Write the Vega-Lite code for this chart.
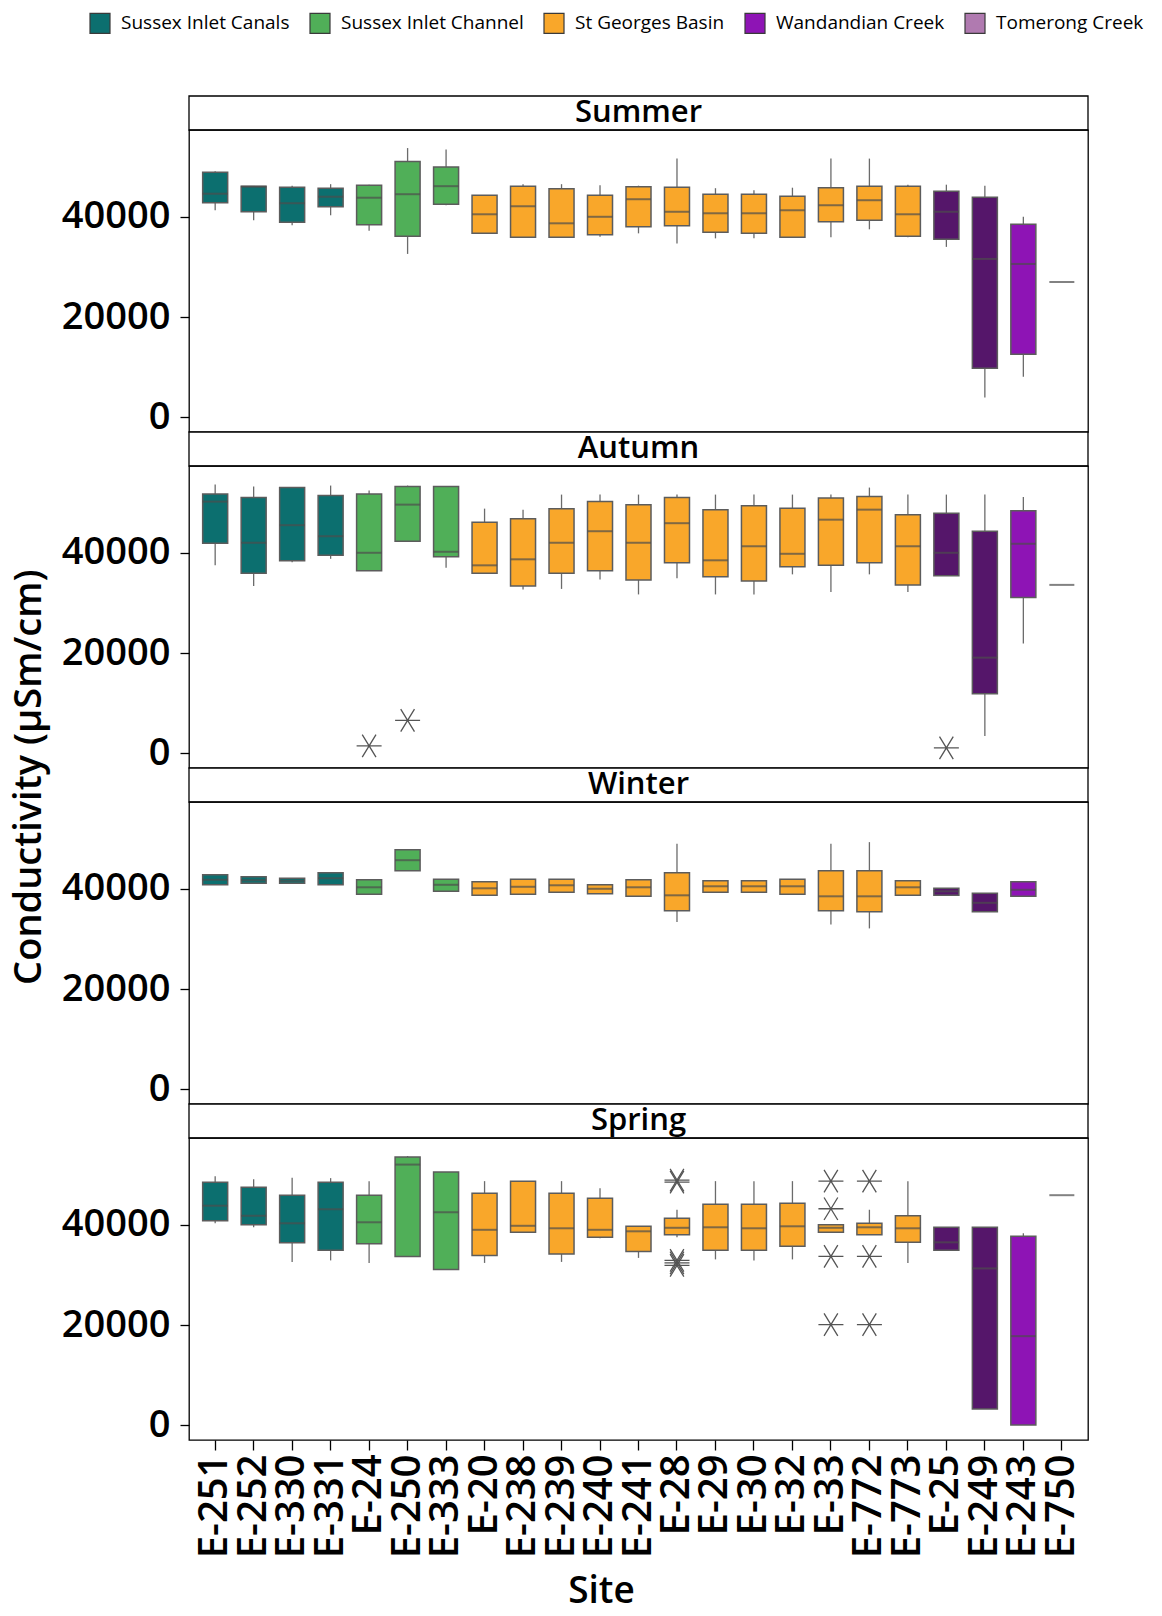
{
  "$schema": "https://vega.github.io/schema/vega-lite/v6.json",
  "padding": {"left": 10, "top": 12, "right": 5, "bottom": 2},
  "bounds": "flush",
  "title": {"text": "Conductivity (μSm/cm)", "orient": "left", "anchor": "middle", "fontSize": 38, "fontWeight": 600, "font": "Open Sans", "color": "#000", "offset": 12, "dx": 34},
  "datasets": {
    "stats": [
      {"season":"Summer","Site":"E-251","Group":"Sussex Inlet Canals","lo":41300,"q1":42800,"median":44600,"q3":48900,"hi":49100},
      {"season":"Summer","Site":"E-252","Group":"Sussex Inlet Canals","lo":39300,"q1":41000,"median":46000,"q3":46100,"hi":46100},
      {"season":"Summer","Site":"E-330","Group":"Sussex Inlet Canals","lo":38300,"q1":38900,"median":42700,"q3":45900,"hi":46200},
      {"season":"Summer","Site":"E-331","Group":"Sussex Inlet Canals","lo":40300,"q1":42000,"median":44000,"q3":45700,"hi":46500},
      {"season":"Summer","Site":"E-24","Group":"Sussex Inlet Channel","lo":37200,"q1":38400,"median":43800,"q3":46300,"hi":46400},
      {"season":"Summer","Site":"E-250","Group":"Sussex Inlet Channel","lo":32600,"q1":36100,"median":44500,"q3":51000,"hi":53700},
      {"season":"Summer","Site":"E-333","Group":"Sussex Inlet Channel","lo":42300,"q1":42500,"median":46100,"q3":49900,"hi":53400},
      {"season":"Summer","Site":"E-20","Group":"St Georges Basin","lo":36700,"q1":36700,"median":40500,"q3":44300,"hi":44300},
      {"season":"Summer","Site":"E-238","Group":"St Georges Basin","lo":35900,"q1":35900,"median":42100,"q3":46100,"hi":46500},
      {"season":"Summer","Site":"E-239","Group":"St Georges Basin","lo":35900,"q1":35900,"median":38700,"q3":45600,"hi":46500},
      {"season":"Summer","Site":"E-240","Group":"St Georges Basin","lo":36000,"q1":36400,"median":40000,"q3":44300,"hi":46300},
      {"season":"Summer","Site":"E-241","Group":"St Georges Basin","lo":36700,"q1":38000,"median":43500,"q3":46000,"hi":46200},
      {"season":"Summer","Site":"E-28","Group":"St Georges Basin","lo":34700,"q1":38200,"median":41000,"q3":45900,"hi":51600},
      {"season":"Summer","Site":"E-29","Group":"St Georges Basin","lo":35700,"q1":36900,"median":40700,"q3":44500,"hi":45700},
      {"season":"Summer","Site":"E-30","Group":"St Georges Basin","lo":35700,"q1":36700,"median":40700,"q3":44500,"hi":45300},
      {"season":"Summer","Site":"E-32","Group":"St Georges Basin","lo":35900,"q1":35900,"median":41300,"q3":44100,"hi":45800},
      {"season":"Summer","Site":"E-33","Group":"St Georges Basin","lo":35900,"q1":39000,"median":42300,"q3":45800,"hi":51600},
      {"season":"Summer","Site":"E-772","Group":"St Georges Basin","lo":37500,"q1":39300,"median":43300,"q3":46100,"hi":51600},
      {"season":"Summer","Site":"E-773","Group":"St Georges Basin","lo":35900,"q1":36100,"median":40500,"q3":46100,"hi":46400},
      {"season":"Summer","Site":"E-25","Group":"Wandandian Creek","lo":34000,"q1":35500,"median":41000,"q3":45100,"hi":46400},
      {"season":"Summer","Site":"E-249","Group":"Wandandian Creek","lo":4000,"q1":9800,"median":31600,"q3":43900,"hi":46200},
      {"season":"Summer","Site":"E-243","Group":"Wandandian Creek","lo":8100,"q1":12600,"median":30600,"q3":38500,"hi":40000},
      {"season":"Summer","Site":"E-750","Group":"Tomerong Creek","median":27000},

      {"season":"Autumn","Site":"E-251","Group":"Sussex Inlet Canals","lo":37500,"q1":41900,"median":50200,"q3":51700,"hi":53600},
      {"season":"Autumn","Site":"E-252","Group":"Sussex Inlet Canals","lo":33400,"q1":35900,"median":42000,"q3":51000,"hi":53200},
      {"season":"Autumn","Site":"E-330","Group":"Sussex Inlet Canals","lo":38100,"q1":38400,"median":45500,"q3":53000,"hi":53000},
      {"season":"Autumn","Site":"E-331","Group":"Sussex Inlet Canals","lo":38800,"q1":39500,"median":43300,"q3":51400,"hi":53400},
      {"season":"Autumn","Site":"E-24","Group":"Sussex Inlet Channel","lo":36400,"q1":36400,"median":40000,"q3":51700,"hi":52400},
      {"season":"Autumn","Site":"E-250","Group":"Sussex Inlet Channel","lo":42300,"q1":42300,"median":49600,"q3":53200,"hi":53400},
      {"season":"Autumn","Site":"E-333","Group":"Sussex Inlet Channel","lo":37000,"q1":39200,"median":40200,"q3":53200,"hi":53200},
      {"season":"Autumn","Site":"E-20","Group":"St Georges Basin","lo":35900,"q1":35900,"median":37500,"q3":46100,"hi":48800},
      {"season":"Autumn","Site":"E-238","Group":"St Georges Basin","lo":32700,"q1":33400,"median":38700,"q3":46800,"hi":48600},
      {"season":"Autumn","Site":"E-239","Group":"St Georges Basin","lo":32800,"q1":35900,"median":42000,"q3":48800,"hi":51600},
      {"season":"Autumn","Site":"E-240","Group":"St Georges Basin","lo":34700,"q1":36400,"median":44300,"q3":50200,"hi":51600},
      {"season":"Autumn","Site":"E-241","Group":"St Georges Basin","lo":31700,"q1":34600,"median":42000,"q3":49600,"hi":51600},
      {"season":"Autumn","Site":"E-28","Group":"St Georges Basin","lo":34900,"q1":38000,"median":45900,"q3":51000,"hi":51600},
      {"season":"Autumn","Site":"E-29","Group":"St Georges Basin","lo":31700,"q1":35200,"median":38500,"q3":48600,"hi":51600},
      {"season":"Autumn","Site":"E-30","Group":"St Georges Basin","lo":31700,"q1":34400,"median":41300,"q3":49400,"hi":51600},
      {"season":"Autumn","Site":"E-32","Group":"St Georges Basin","lo":35700,"q1":37200,"median":39800,"q3":48900,"hi":51600},
      {"season":"Autumn","Site":"E-33","Group":"St Georges Basin","lo":32200,"q1":37500,"median":46600,"q3":50900,"hi":51600},
      {"season":"Autumn","Site":"E-772","Group":"St Georges Basin","lo":35700,"q1":38000,"median":48600,"q3":51200,"hi":53000},
      {"season":"Autumn","Site":"E-773","Group":"St Georges Basin","lo":32200,"q1":33600,"median":41300,"q3":47600,"hi":51600},
      {"season":"Autumn","Site":"E-25","Group":"Wandandian Creek","lo":35400,"q1":35400,"median":40000,"q3":47900,"hi":51600},
      {"season":"Autumn","Site":"E-249","Group":"Wandandian Creek","lo":3500,"q1":11900,"median":19100,"q3":44300,"hi":51600},
      {"season":"Autumn","Site":"E-243","Group":"Wandandian Creek","lo":21900,"q1":31100,"median":41800,"q3":48400,"hi":51100},
      {"season":"Autumn","Site":"E-750","Group":"Tomerong Creek","median":33600},

      {"season":"Winter","Site":"E-251","Group":"Sussex Inlet Canals","lo":40800,"q1":40800,"median":41800,"q3":42800,"hi":42800},
      {"season":"Winter","Site":"E-252","Group":"Sussex Inlet Canals","lo":41100,"q1":41100,"median":41700,"q3":42400,"hi":42400},
      {"season":"Winter","Site":"E-330","Group":"Sussex Inlet Canals","lo":41100,"q1":41100,"median":41600,"q3":42100,"hi":42100},
      {"season":"Winter","Site":"E-331","Group":"Sussex Inlet Canals","lo":40800,"q1":40800,"median":42100,"q3":43200,"hi":43200},
      {"season":"Winter","Site":"E-24","Group":"Sussex Inlet Channel","lo":38900,"q1":38900,"median":40300,"q3":41800,"hi":41800},
      {"season":"Winter","Site":"E-250","Group":"Sussex Inlet Channel","lo":43600,"q1":43600,"median":45700,"q3":47800,"hi":47800},
      {"season":"Winter","Site":"E-333","Group":"Sussex Inlet Channel","lo":39500,"q1":39500,"median":40800,"q3":41900,"hi":41900},
      {"season":"Winter","Site":"E-20","Group":"St Georges Basin","lo":38700,"q1":38700,"median":40100,"q3":41400,"hi":41400},
      {"season":"Winter","Site":"E-238","Group":"St Georges Basin","lo":38900,"q1":38900,"median":40400,"q3":41900,"hi":41900},
      {"season":"Winter","Site":"E-239","Group":"St Georges Basin","lo":39300,"q1":39300,"median":40700,"q3":41900,"hi":41900},
      {"season":"Winter","Site":"E-240","Group":"St Georges Basin","lo":39000,"q1":39000,"median":40000,"q3":40800,"hi":40800},
      {"season":"Winter","Site":"E-241","Group":"St Georges Basin","lo":38500,"q1":38500,"median":40300,"q3":41800,"hi":41800},
      {"season":"Winter","Site":"E-28","Group":"St Georges Basin","lo":33400,"q1":35600,"median":38700,"q3":43200,"hi":49000},
      {"season":"Winter","Site":"E-29","Group":"St Georges Basin","lo":39300,"q1":39300,"median":40500,"q3":41600,"hi":41600},
      {"season":"Winter","Site":"E-30","Group":"St Georges Basin","lo":39300,"q1":39300,"median":40500,"q3":41600,"hi":41600},
      {"season":"Winter","Site":"E-32","Group":"St Georges Basin","lo":38900,"q1":38900,"median":40500,"q3":41900,"hi":41900},
      {"season":"Winter","Site":"E-33","Group":"St Georges Basin","lo":32900,"q1":35600,"median":38500,"q3":43600,"hi":49000},
      {"season":"Winter","Site":"E-772","Group":"St Georges Basin","lo":32100,"q1":35400,"median":38500,"q3":43600,"hi":49300},
      {"season":"Winter","Site":"E-773","Group":"St Georges Basin","lo":38700,"q1":38700,"median":40300,"q3":41600,"hi":41600},
      {"season":"Winter","Site":"E-25","Group":"Wandandian Creek","lo":38700,"q1":38700,"median":39500,"q3":40100,"hi":40100},
      {"season":"Winter","Site":"E-249","Group":"Wandandian Creek","lo":35400,"q1":35400,"median":37200,"q3":39100,"hi":39100},
      {"season":"Winter","Site":"E-243","Group":"Wandandian Creek","lo":38500,"q1":38500,"median":39800,"q3":41400,"hi":41400},

      {"season":"Spring","Site":"E-251","Group":"Sussex Inlet Canals","lo":40300,"q1":40800,"median":43800,"q3":48500,"hi":49700},
      {"season":"Spring","Site":"E-252","Group":"Sussex Inlet Canals","lo":39500,"q1":40000,"median":41800,"q3":47500,"hi":49100},
      {"season":"Spring","Site":"E-330","Group":"Sussex Inlet Canals","lo":32600,"q1":36400,"median":40300,"q3":45900,"hi":49400},
      {"season":"Spring","Site":"E-331","Group":"Sussex Inlet Canals","lo":32900,"q1":34900,"median":43100,"q3":48500,"hi":49300},
      {"season":"Spring","Site":"E-24","Group":"Sussex Inlet Channel","lo":32400,"q1":36200,"median":40500,"q3":45900,"hi":48700},
      {"season":"Spring","Site":"E-250","Group":"Sussex Inlet Channel","lo":33700,"q1":33700,"median":52000,"q3":53500,"hi":53700},
      {"season":"Spring","Site":"E-333","Group":"Sussex Inlet Channel","lo":31100,"q1":31100,"median":42500,"q3":50500,"hi":50500},
      {"season":"Spring","Site":"E-20","Group":"St Georges Basin","lo":32400,"q1":33900,"median":39000,"q3":46300,"hi":48700},
      {"season":"Spring","Site":"E-238","Group":"St Georges Basin","lo":38500,"q1":38500,"median":39800,"q3":48700,"hi":48700},
      {"season":"Spring","Site":"E-239","Group":"St Georges Basin","lo":32600,"q1":34200,"median":39300,"q3":46300,"hi":48700},
      {"season":"Spring","Site":"E-240","Group":"St Georges Basin","lo":37300,"q1":37500,"median":39000,"q3":45300,"hi":47300},
      {"season":"Spring","Site":"E-241","Group":"St Georges Basin","lo":33400,"q1":34700,"median":38700,"q3":39700,"hi":39700},
      {"season":"Spring","Site":"E-28","Group":"St Georges Basin","lo":37500,"q1":38000,"median":39400,"q3":41300,"hi":43000},
      {"season":"Spring","Site":"E-29","Group":"St Georges Basin","lo":33100,"q1":34900,"median":39500,"q3":44100,"hi":48700},
      {"season":"Spring","Site":"E-30","Group":"St Georges Basin","lo":32900,"q1":34900,"median":39300,"q3":44100,"hi":48700},
      {"season":"Spring","Site":"E-32","Group":"St Georges Basin","lo":33100,"q1":35700,"median":39700,"q3":44300,"hi":48700},
      {"season":"Spring","Site":"E-33","Group":"St Georges Basin","lo":38500,"q1":38500,"median":39400,"q3":40000,"hi":40000},
      {"season":"Spring","Site":"E-772","Group":"St Georges Basin","lo":38000,"q1":38000,"median":39500,"q3":40300,"hi":43000},
      {"season":"Spring","Site":"E-773","Group":"St Georges Basin","lo":32400,"q1":36500,"median":39300,"q3":41800,"hi":48700},
      {"season":"Spring","Site":"E-25","Group":"Wandandian Creek","lo":34900,"q1":34900,"median":36500,"q3":39500,"hi":39500},
      {"season":"Spring","Site":"E-249","Group":"Wandandian Creek","lo":3300,"q1":3300,"median":31300,"q3":39500,"hi":39500},
      {"season":"Spring","Site":"E-243","Group":"Wandandian Creek","lo":100,"q1":100,"median":17800,"q3":37700,"hi":38300},
      {"season":"Spring","Site":"E-750","Group":"Tomerong Creek","median":45900}
    ],
    "outliers": [
      {"season":"Autumn","Site":"E-24","value":1500},
      {"season":"Autumn","Site":"E-250","value":6600},
      {"season":"Autumn","Site":"E-25","value":1100},
      {"season":"Spring","Site":"E-28","value":48500},
      {"season":"Spring","Site":"E-28","value":48900},
      {"season":"Spring","Site":"E-28","value":32900},
      {"season":"Spring","Site":"E-28","value":32400},
      {"season":"Spring","Site":"E-28","value":31900},
      {"season":"Spring","Site":"E-33","value":48700},
      {"season":"Spring","Site":"E-33","value":43200},
      {"season":"Spring","Site":"E-33","value":33700},
      {"season":"Spring","Site":"E-33","value":20100},
      {"season":"Spring","Site":"E-772","value":48700},
      {"season":"Spring","Site":"E-772","value":33700},
      {"season":"Spring","Site":"E-772","value":20100}
    ]
  },
  "spacing": 0,
  "resolve": {"scale": {"x": "independent", "y": "independent", "fill": "shared"}, "legend": {"fill": "shared"}},
  "vconcat": [
    {"width": 899, "height": 34, "data": {"values": [{"season": "Summer"}]}, "layer": [
      {"mark": {"type": "rect", "fill": "#fff", "stroke": "#000", "strokeWidth": 1.3}, "encoding": {}},
      {"mark": {"type": "text", "fontSize": 31, "fontWeight": 600, "font": "Open Sans", "baseline": "middle", "color": "#000"}, "encoding": {"text": {"field": "season"}}}
    ]},
    {
      "width": 899, "height": 302,
      "data": {"name": "stats"},
      "transform": [{"filter": "datum.season === 'Summer'"}],
      "encoding": {"x": {"field": "Site", "type": "nominal", "scale": {"domain": ["E-251","E-252","E-330","E-331","E-24","E-250","E-333","E-20","E-238","E-239","E-240","E-241","E-28","E-29","E-30","E-32","E-33","E-772","E-773","E-25","E-249","E-243","E-750"], "paddingInner": 0, "paddingOuter": 0.18}, "axis": null}},
      "layer": [
        {"mark": {"type": "rule", "color": "#6b6b6b", "strokeWidth": 1.3}, "encoding": {"y": {"field": "lo", "type": "quantitative", "scale": {"domain": [-2900, 57300], "nice": false, "zero": false}, "axis": {"values": [0, 20000, 40000], "format": "d", "title": null}}, "y2": {"field": "hi"}}},
        {"mark": {"type": "bar", "width": {"band": 0.65}, "stroke": "#5c5c5c", "strokeWidth": 1.5}, "encoding": {"y": {"field": "q1", "type": "quantitative", "axis": {"values": [0, 20000, 40000], "format": "d", "title": null}}, "y2": {"field": "q3"}, "fill": {"field": "Group", "type": "nominal", "title": null, "scale": {"domain": ["Sussex Inlet Canals","Sussex Inlet Channel","St Georges Basin","Wandandian Creek","Tomerong Creek"], "range": ["#0c6f6f","#50af58","#f9a72a","#8e14b5","#b07ab0"]}, "condition": {"test": "datum.Site === 'E-25' || datum.Site === 'E-249'", "value": "#55166a"}}}},
        {"mark": {"type": "tick", "size": 25, "thickness": 2, "color": "#4d4d4d"}, "encoding": {"y": {"field": "median", "type": "quantitative", "axis": {"values": [0, 20000, 40000], "format": "d", "title": null}}}},
        {"data": {"name": "outliers"}, "transform": [{"filter": "datum.season === 'Summer'"}], "mark": {"type": "point", "shape": "M-1,0L1,0M-0.55,-0.9L0.55,0.9M-0.55,0.9L0.55,-0.9", "size": 625, "filled": false, "opacity": 1, "color": "#555", "strokeWidth": 1.3}, "encoding": {"y": {"field": "value", "type": "quantitative", "axis": {"values": [0, 20000, 40000], "format": "d", "title": null}}}}
      ]
    },
    {"width": 899, "height": 34, "data": {"values": [{"season": "Autumn"}]}, "layer": [
      {"mark": {"type": "rect", "fill": "#fff", "stroke": "#000", "strokeWidth": 1.3}, "encoding": {}},
      {"mark": {"type": "text", "fontSize": 31, "fontWeight": 600, "font": "Open Sans", "baseline": "middle", "color": "#000"}, "encoding": {"text": {"field": "season"}}}
    ]},
    {
      "width": 899, "height": 302,
      "data": {"name": "stats"},
      "transform": [{"filter": "datum.season === 'Autumn'"}],
      "encoding": {"x": {"field": "Site", "type": "nominal", "scale": {"domain": ["E-251","E-252","E-330","E-331","E-24","E-250","E-333","E-20","E-238","E-239","E-240","E-241","E-28","E-29","E-30","E-32","E-33","E-772","E-773","E-25","E-249","E-243","E-750"], "paddingInner": 0, "paddingOuter": 0.18}, "axis": null}},
      "layer": [
        {"mark": {"type": "rule", "color": "#6b6b6b", "strokeWidth": 1.3}, "encoding": {"y": {"field": "lo", "type": "quantitative", "scale": {"domain": [-2900, 57300], "nice": false, "zero": false}, "axis": {"values": [0, 20000, 40000], "format": "d", "title": null}}, "y2": {"field": "hi"}}},
        {"mark": {"type": "bar", "width": {"band": 0.65}, "stroke": "#5c5c5c", "strokeWidth": 1.5}, "encoding": {"y": {"field": "q1", "type": "quantitative", "axis": {"values": [0, 20000, 40000], "format": "d", "title": null}}, "y2": {"field": "q3"}, "fill": {"field": "Group", "type": "nominal", "title": null, "scale": {"domain": ["Sussex Inlet Canals","Sussex Inlet Channel","St Georges Basin","Wandandian Creek","Tomerong Creek"], "range": ["#0c6f6f","#50af58","#f9a72a","#8e14b5","#b07ab0"]}, "condition": {"test": "datum.Site === 'E-25' || datum.Site === 'E-249'", "value": "#55166a"}}}},
        {"mark": {"type": "tick", "size": 25, "thickness": 2, "color": "#4d4d4d"}, "encoding": {"y": {"field": "median", "type": "quantitative", "axis": {"values": [0, 20000, 40000], "format": "d", "title": null}}}},
        {"data": {"name": "outliers"}, "transform": [{"filter": "datum.season === 'Autumn'"}], "mark": {"type": "point", "shape": "M-1,0L1,0M-0.55,-0.9L0.55,0.9M-0.55,0.9L0.55,-0.9", "size": 625, "filled": false, "opacity": 1, "color": "#555", "strokeWidth": 1.3}, "encoding": {"y": {"field": "value", "type": "quantitative", "axis": {"values": [0, 20000, 40000], "format": "d", "title": null}}}}
      ]
    },
    {"width": 899, "height": 34, "data": {"values": [{"season": "Winter"}]}, "layer": [
      {"mark": {"type": "rect", "fill": "#fff", "stroke": "#000", "strokeWidth": 1.3}, "encoding": {}},
      {"mark": {"type": "text", "fontSize": 31, "fontWeight": 600, "font": "Open Sans", "baseline": "middle", "color": "#000"}, "encoding": {"text": {"field": "season"}}}
    ]},
    {
      "width": 899, "height": 302,
      "data": {"name": "stats"},
      "transform": [{"filter": "datum.season === 'Winter'"}],
      "encoding": {"x": {"field": "Site", "type": "nominal", "scale": {"domain": ["E-251","E-252","E-330","E-331","E-24","E-250","E-333","E-20","E-238","E-239","E-240","E-241","E-28","E-29","E-30","E-32","E-33","E-772","E-773","E-25","E-249","E-243","E-750"], "paddingInner": 0, "paddingOuter": 0.18}, "axis": null}},
      "layer": [
        {"mark": {"type": "rule", "color": "#6b6b6b", "strokeWidth": 1.3}, "encoding": {"y": {"field": "lo", "type": "quantitative", "scale": {"domain": [-2900, 57300], "nice": false, "zero": false}, "axis": {"values": [0, 20000, 40000], "format": "d", "title": null}}, "y2": {"field": "hi"}}},
        {"mark": {"type": "bar", "width": {"band": 0.65}, "stroke": "#5c5c5c", "strokeWidth": 1.5}, "encoding": {"y": {"field": "q1", "type": "quantitative", "axis": {"values": [0, 20000, 40000], "format": "d", "title": null}}, "y2": {"field": "q3"}, "fill": {"field": "Group", "type": "nominal", "title": null, "scale": {"domain": ["Sussex Inlet Canals","Sussex Inlet Channel","St Georges Basin","Wandandian Creek","Tomerong Creek"], "range": ["#0c6f6f","#50af58","#f9a72a","#8e14b5","#b07ab0"]}, "condition": {"test": "datum.Site === 'E-25' || datum.Site === 'E-249'", "value": "#55166a"}}}},
        {"mark": {"type": "tick", "size": 25, "thickness": 2, "color": "#4d4d4d"}, "encoding": {"y": {"field": "median", "type": "quantitative", "axis": {"values": [0, 20000, 40000], "format": "d", "title": null}}}},
        {"data": {"name": "outliers"}, "transform": [{"filter": "datum.season === 'Winter'"}], "mark": {"type": "point", "shape": "M-1,0L1,0M-0.55,-0.9L0.55,0.9M-0.55,0.9L0.55,-0.9", "size": 625, "filled": false, "opacity": 1, "color": "#555", "strokeWidth": 1.3}, "encoding": {"y": {"field": "value", "type": "quantitative", "axis": {"values": [0, 20000, 40000], "format": "d", "title": null}}}}
      ]
    },
    {"width": 899, "height": 34, "data": {"values": [{"season": "Spring"}]}, "layer": [
      {"mark": {"type": "rect", "fill": "#fff", "stroke": "#000", "strokeWidth": 1.3}, "encoding": {}},
      {"mark": {"type": "text", "fontSize": 31, "fontWeight": 600, "font": "Open Sans", "baseline": "middle", "color": "#000"}, "encoding": {"text": {"field": "season"}}}
    ]},
    {
      "width": 899, "height": 302,
      "data": {"name": "stats"},
      "transform": [{"filter": "datum.season === 'Spring'"}],
      "encoding": {"x": {"field": "Site", "type": "nominal", "scale": {"domain": ["E-251","E-252","E-330","E-331","E-24","E-250","E-333","E-20","E-238","E-239","E-240","E-241","E-28","E-29","E-30","E-32","E-33","E-772","E-773","E-25","E-249","E-243","E-750"], "paddingInner": 0, "paddingOuter": 0.18}, "axis": {"title": "Site", "titleX": 412}}},
      "layer": [
        {"mark": {"type": "rule", "color": "#6b6b6b", "strokeWidth": 1.3}, "encoding": {"y": {"field": "lo", "type": "quantitative", "scale": {"domain": [-2900, 57300], "nice": false, "zero": false}, "axis": {"values": [0, 20000, 40000], "format": "d", "title": null}}, "y2": {"field": "hi"}}},
        {"mark": {"type": "bar", "width": {"band": 0.65}, "stroke": "#5c5c5c", "strokeWidth": 1.5}, "encoding": {"y": {"field": "q1", "type": "quantitative", "axis": {"values": [0, 20000, 40000], "format": "d", "title": null}}, "y2": {"field": "q3"}, "fill": {"field": "Group", "type": "nominal", "title": null, "scale": {"domain": ["Sussex Inlet Canals","Sussex Inlet Channel","St Georges Basin","Wandandian Creek","Tomerong Creek"], "range": ["#0c6f6f","#50af58","#f9a72a","#8e14b5","#b07ab0"]}, "condition": {"test": "datum.Site === 'E-25' || datum.Site === 'E-249'", "value": "#55166a"}}}},
        {"mark": {"type": "tick", "size": 25, "thickness": 2, "color": "#4d4d4d"}, "encoding": {"y": {"field": "median", "type": "quantitative", "axis": {"values": [0, 20000, 40000], "format": "d", "title": null}}}},
        {"data": {"name": "outliers"}, "transform": [{"filter": "datum.season === 'Spring'"}], "mark": {"type": "point", "shape": "M-1,0L1,0M-0.55,-0.9L0.55,0.9M-0.55,0.9L0.55,-0.9", "size": 625, "filled": false, "opacity": 1, "color": "#555", "strokeWidth": 1.3}, "encoding": {"y": {"field": "value", "type": "quantitative", "axis": {"values": [0, 20000, 40000], "format": "d", "title": null}}}}
      ]
    }
  ],
  "config": {
    "view": {"stroke": "#000", "strokeWidth": 1.3},
    "font": "Open Sans",
    "axis": {"grid": false, "domain": false, "tickColor": "#000", "tickWidth": 1.3, "labelColor": "#000", "labelFont": "Open Sans", "titleFont": "Open Sans", "titleColor": "#000"},
    "axisY": {"tickSize": 9, "labelFontSize": 38, "labelFontWeight": 600, "labelPadding": 10},
    "axisX": {"tickSize": 10, "labelFontSize": 40, "labelFontWeight": 600, "labelAngle": 270, "labelPadding": 4, "titleFontSize": 37, "titleFontWeight": 600, "titlePadding": 16},
    "legend": {"orient": "none", "legendX": -100, "legendY": -84, "direction": "horizontal", "symbolType": "square", "symbolSize": 400, "symbolStrokeColor": "#3a3a3a", "symbolStrokeWidth": 1.2, "labelFontSize": 19, "labelFont": "Open Sans", "labelColor": "#000", "labelOffset": 10, "columnPadding": 17, "labelLimit": 400}
  }
}
